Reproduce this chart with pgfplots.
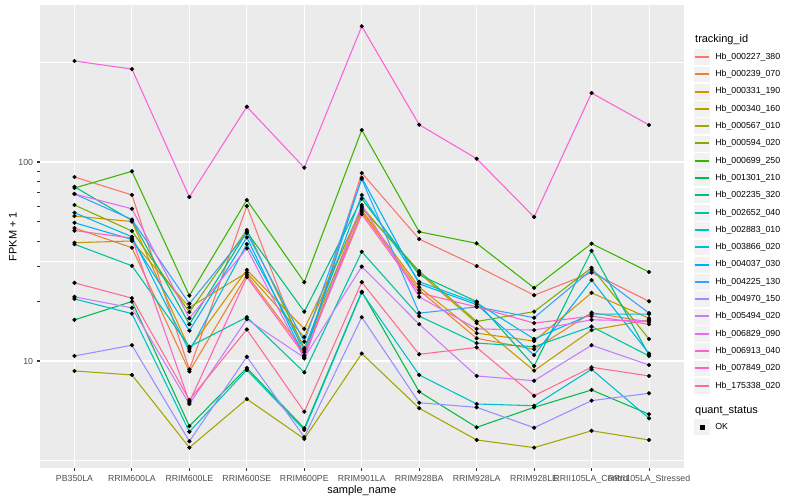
\documentclass[border=0pt]{standalone}
\usepackage{pgfplots}
\pgfplotsset{compat=1.18}
\usepackage{pgfplotstable}
\usepackage{fontspec}
\setmainfont{Liberation Sans}
\definecolor{hue1}{HTML}{F8766D}
\definecolor{hue2}{HTML}{EA8331}
\definecolor{hue3}{HTML}{D89000}
\definecolor{hue4}{HTML}{C09B00}
\definecolor{hue5}{HTML}{A3A500}
\definecolor{hue6}{HTML}{7CAE00}
\definecolor{hue7}{HTML}{39B600}
\definecolor{hue8}{HTML}{00BB4E}
\definecolor{hue9}{HTML}{00BF7D}
\definecolor{hue10}{HTML}{00C1A3}
\definecolor{hue11}{HTML}{00BFC4}
\definecolor{hue12}{HTML}{00BAE0}
\definecolor{hue13}{HTML}{00B0F6}
\definecolor{hue14}{HTML}{35A2FF}
\definecolor{hue15}{HTML}{9590FF}
\definecolor{hue16}{HTML}{C77CFF}
\definecolor{hue17}{HTML}{E76BF3}
\definecolor{hue18}{HTML}{FA62DB}
\definecolor{hue19}{HTML}{FF62BC}
\definecolor{hue20}{HTML}{FF6C91}
\definecolor{panelgray}{HTML}{EBEBEB}
\definecolor{keygray}{HTML}{F2F2F2}
\definecolor{tickgray}{HTML}{333333}
\definecolor{labelgray}{HTML}{4D4D4D}
\pgfplotstableread{
x s1 s2 s3 s4 s5 s6 s7 s8 s9 s10 s11 s12 s13 s14 s15 s16 s17 s18 s19 s20
0 84.1 46.6 53.5 39.3 8.91 60.8 74.0 16.1 75.1 38.6 20.5 55.6 49.5 69.1 10.6 21.0 69.1 321.7 45.2 24.7
1 68.3 37.1 50.2 40.1 8.51 45.0 89.8 19.9 50.8 30.1 17.3 42.1 40.8 51.4 12.0 18.5 58.2 293.3 41.5 20.7
2 9.06 8.86 11.5 18.6 3.67 17.6 21.3 4.71 15.3 11.8 4.41 11.2 14.2 19.4 3.95 6.08 16.4 66.7 6.22 6.37
3 60.1 27.1 28.7 27.8 6.44 45.5 64.4 9.22 44.5 16.6 9.01 38.7 41.8 44.0 10.5 16.2 36.8 189.6 26.4 14.4
4 10.6 11.1 14.5 13.2 4.06 11.6 24.9 4.59 17.7 8.77 4.50 11.4 10.5 12.5 4.15 10.4 10.3 93.6 10.7 5.56
5 88.1 56.1 57.4 59.6 10.9 58.7 144.8 22.3 65.4 35.4 22.1 68.3 83.4 82.1 16.6 29.8 60.8 480.9 54.6 24.9
6 41.0 22.7 23.5 27.7 5.79 28.3 44.6 7.01 27.1 16.8 8.51 25.0 24.4 17.4 6.17 15.3 21.0 154.0 22.0 10.8
7 30.0 13.0 13.8 15.5 4.01 15.8 39.0 4.64 19.9 12.3 6.08 19.6 19.2 18.7 5.85 8.41 14.5 103.9 18.7 11.7
8 21.4 11.45 12.6 8.94 3.67 17.7 23.3 5.85 9.44 11.8 5.96 12.9 10.7 16.5 4.62 7.96 14.3 52.9 15.5 6.69
9 27.8 17.5 22.0 14.3 4.46 29.4 38.9 7.15 35.8 14.9 9.08 17.2 25.5 28.7 6.32 12.0 16.1 222.2 16.8 9.30
10 19.95 15.7 16.4 16.1 4.01 12.9 28.0 5.40 10.7 10.6 5.15 17.2 10.9 17.4 6.88 9.55 15.9 153.5 15.3 8.41
}\data
\begin{document}
\begin{tikzpicture}
\path[use as bounding box] (0bp,0bp) rectangle (800bp,500bp);
\begin{axis}[
  at={(40bp,32bp)}, anchor=south west,
  scale only axis, width=643.5bp, height=463bp,
  xmin=-0.6, xmax=10.6, ymode=log, ymin=2.899, ymax=615.2,
  axis background/.style={fill=panelgray},
  axis line style={draw=none},
  xtick={0,...,10},
  xticklabels={PB350LA,RRIM600LA,RRIM600LE,RRIM600SE,RRIM600PE,RRIM901LA,RRIM928BA,RRIM928LA,RRIM928LE,RRII105LA\_Control,RRII105LA\_Stressed},
  ytick={10,100}, yticklabels={10,100},
  minor y tick num=0,
  grid=major, major grid style={white, line width=1.07bp},
  extra y ticks={3.1623,31.623,316.23}, extra y tick labels={},
  extra y tick style={grid=major, major grid style={white, line width=0.53bp}, major tick length=0pt},
  tick align=outside, tick pos=left, major tick length=2.75bp,
  tick style={color=tickgray, line width=1.07bp},
  ticklabel style={font=\fontsize{8.8}{10}\selectfont, text=labelgray},
  xticklabel style={inner sep=0pt, anchor=north, yshift=-4.5bp},
  yticklabel style={inner sep=0pt, anchor=east, xshift=-4bp},
  /pgf/number format/assume math mode=true,
  xlabel={sample\_name}, ylabel={FPKM + 1},
  label style={font=\fontsize{11}{13}\selectfont},
  xlabel style={at={(axis description cs:0.5,-0.0497)}, anchor=center},
  ylabel style={at={(axis description cs:-0.042,0.5)}, anchor=center},
  legend cell align=left,
  legend style={at={(axis description cs:1.0148,0.9065)}, anchor=north west,
    draw=none, fill=none, inner sep=0pt, outer sep=0pt, row sep=0pt, column sep=2.5bp,
    font=\fontsize{8.8}{10}\selectfont},
  legend image code/.code={
    \fill[fill=keygray, draw=white, line width=0.5bp] (0bp,-8.4bp) rectangle (17.28bp,8.4bp);
    \draw[#1, line width=2bp] (1.7bp,0bp) -- (15.58bp,0bp);
  },
  legend entries={Hb\_000227\_380,Hb\_000239\_070,Hb\_000331\_190,Hb\_000340\_160,Hb\_000567\_010,Hb\_000594\_020,Hb\_000699\_250,Hb\_001301\_210,Hb\_002235\_320,Hb\_002652\_040,Hb\_002883\_010,Hb\_003866\_020,Hb\_004037\_030,Hb\_004225\_130,Hb\_004970\_150,Hb\_005494\_020,Hb\_006829\_090,Hb\_006913\_040,Hb\_007849\_020,Hb\_175338\_020},
]
\pgfplotsinvokeforeach{1,...,20}{
  \addplot[color=hue#1, line width=1.07bp] table[x=x,y=s#1]{\data};
}
\pgfplotsinvokeforeach{1,...,20}{
  \addplot[forget plot, only marks, mark=*, mark size=1.9bp, color=black] table[x=x,y=s#1]{\data};
}
\end{axis}
\begin{axis}[
  at={(40bp,32bp)}, anchor=south west,
  scale only axis, width=643.5bp, height=463bp,
  xmin=0, xmax=1, ymin=0, ymax=1, hide axis,
  legend cell align=left,
  legend style={at={(axis description cs:1.0148,0.1071)}, anchor=north west,
    draw=none, fill=none, inner sep=0pt, outer sep=0pt, row sep=0pt, column sep=2.5bp,
    font=\fontsize{8.8}{10}\selectfont},
  legend image code/.code={
    \fill[fill=keygray, draw=white, line width=0.5bp] (0bp,-8.4bp) rectangle (17.28bp,8.4bp);
    \draw[#1] plot coordinates {(8.64bp,0bp)};
  },
]
\addlegendimage{only marks, mark=square*, mark size=1.9bp, color=black}
\addlegendentry{OK}
\end{axis}
\node[anchor=west, inner sep=0pt, font=\fontsize{11}{13}\selectfont] at (695bp,460.5bp) {tracking\_id};
\node[anchor=west, inner sep=0pt, font=\fontsize{11}{13}\selectfont] at (695bp,89bp) {quant\_status};
\end{tikzpicture}
\end{document}
